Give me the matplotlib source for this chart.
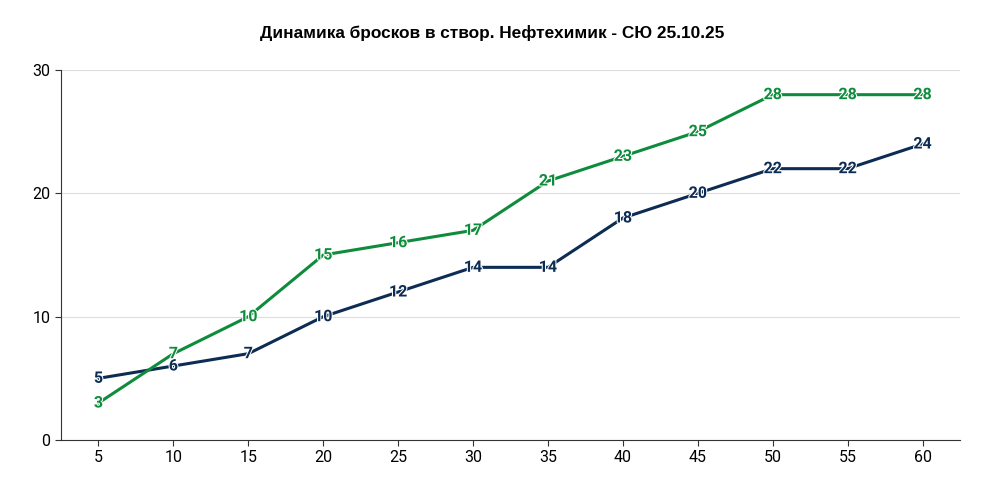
import matplotlib.pyplot as plt
import matplotlib.patheffects as pe

minutes = [5, 10, 15, 20, 25, 30, 35, 40, 45, 50, 55, 60]
neftekhimik = [3, 7, 10, 15, 16, 17, 21, 23, 25, 28, 28, 28]
opponent = [5, 6, 7, 10, 12, 14, 14, 18, 20, 22, 22, 24]

GREEN = "#0e8c3c"
NAVY = "#0d2c54"

fig = plt.figure(figsize=(9.84, 4.92), dpi=100)
ax = fig.add_axes([0.062, 0.1057, 0.9136, 0.752])

for values, colour in [(opponent, NAVY), (neftekhimik, GREEN)]:
    ax.plot(minutes, values, color=colour, lw=2.2, zorder=3)
    for x, y in zip(minutes, values):
        ax.text(x, y, str(y), color=colour, fontsize=11.5, fontweight="bold",
                ha="center", va="center", family="Roboto", zorder=4,
                path_effects=[pe.withStroke(linewidth=1.5, foreground="white")])

ax.set_xlim(2.5, 62.5)
ax.set_ylim(0, 30)
ax.set_xticks(minutes)
ax.set_yticks([0, 10, 20, 30])
ax.grid(axis="y", color="#dddddd", lw=0.8)
ax.set_axisbelow(True)
ax.spines["top"].set_visible(False)
ax.spines["right"].set_visible(False)
ax.spines["left"].set_color("#333333")
ax.spines["bottom"].set_color("#333333")
ax.tick_params(colors="#333333", labelcolor="black", labelsize=11.5, length=4)
for lbl in ax.get_xticklabels() + ax.get_yticklabels():
    lbl.set_family("Roboto")

fig.text(0.5, 0.932, "Динамика бросков в створ. Нефтехимик - СЮ 25.10.25",
         ha="center", va="center", fontsize=12.4, fontweight="bold",
         family="Liberation Sans")

fig.savefig("out.png", dpi=100)
